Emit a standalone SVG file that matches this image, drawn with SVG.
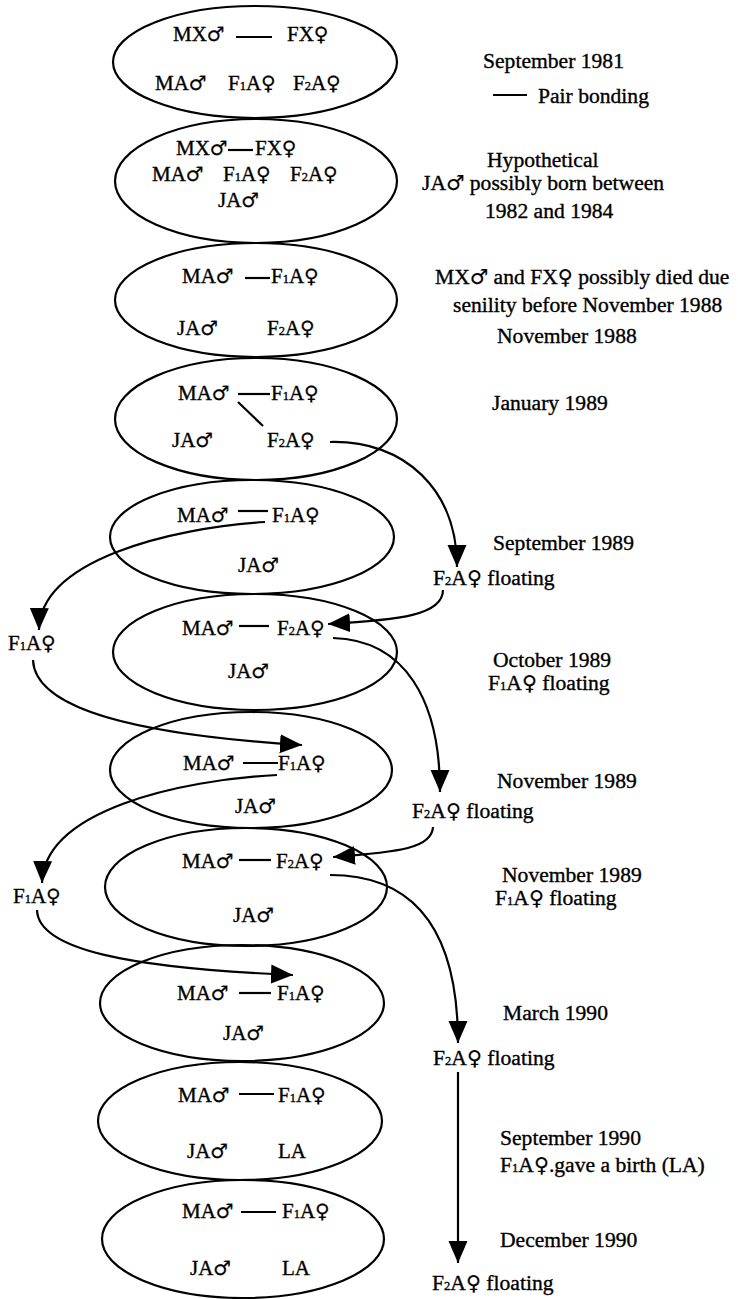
<svg xmlns="http://www.w3.org/2000/svg" width="738" height="1299" viewBox="0 0 738 1299">
<style>
  text { font-family: 'Liberation Serif', 'Times New Roman', 'DejaVu Serif', serif; fill: #000; stroke: #000; stroke-width: 0.35px; }
  .n { font-size: 21px; }
  .a { font-size: 21.6px; }
  .s { font-family: 'DejaVu Sans', sans-serif; font-size: 0.95em; stroke-width: 0.2px; }
  .sub { font-size: 12.5px; }
  .oval { fill: none; stroke: #000; stroke-width: 2.2; }
  .bond { stroke: #000; stroke-width: 2.2; fill: none; }
  .conn { stroke: #000; stroke-width: 2.2; fill: none; marker-end: url(#arr); }
</style>
<defs>
  <marker id="arr" markerUnits="userSpaceOnUse" markerWidth="23" markerHeight="21" refX="22" refY="10.5" orient="auto">
    <path d="M0,1 L22,10.5 L0,20 z" fill="#000"/>
  </marker>
</defs>
<rect width="738" height="1299" fill="#fff"/>

<g id="e1">
  <ellipse class="oval" cx="255" cy="62" rx="142" ry="56"/>
  <text class="n" x="173" y="41">MX<tspan class="s">♂</tspan></text>
  <line class="bond" x1="236" y1="37" x2="272" y2="37"/>
  <text class="n" x="287" y="41">FX<tspan class="s">♀</tspan></text>
  <text class="n" x="155" y="90">MA<tspan class="s">♂</tspan></text>
  <text class="n" x="228" y="90">F<tspan class="sub">1</tspan>A<tspan class="s">♀</tspan></text>
  <text class="n" x="293" y="90">F<tspan class="sub">2</tspan>A<tspan class="s">♀</tspan></text>
</g>

<g id="e2">
  <ellipse class="oval" cx="256" cy="181" rx="141" ry="62"/>
  <text class="n" x="176" y="155">MX<tspan class="s">♂</tspan></text>
  <line class="bond" x1="228" y1="150" x2="253" y2="150"/>
  <text class="n" x="255" y="155">FX<tspan class="s">♀</tspan></text>
  <text class="n" x="152" y="181">MA<tspan class="s">♂</tspan></text>
  <text class="n" x="223" y="181">F<tspan class="sub">1</tspan>A<tspan class="s">♀</tspan></text>
  <text class="n" x="290" y="181">F<tspan class="sub">2</tspan>A<tspan class="s">♀</tspan></text>
  <text class="n" x="218" y="207">JA<tspan class="s">♂</tspan></text>
</g>

<g id="e3">
  <ellipse class="oval" cx="256" cy="300" rx="141" ry="57"/>
  <text class="n" x="182" y="283">MA<tspan class="s">♂</tspan></text>
  <line class="bond" x1="245" y1="278" x2="270" y2="278"/>
  <text class="n" x="271" y="283">F<tspan class="sub">1</tspan>A<tspan class="s">♀</tspan></text>
  <text class="n" x="177" y="335">JA<tspan class="s">♂</tspan></text>
  <text class="n" x="267" y="335">F<tspan class="sub">2</tspan>A<tspan class="s">♀</tspan></text>
</g>

<g id="e4">
  <ellipse class="oval" cx="256" cy="419" rx="141" ry="61"/>
  <text class="n" x="178" y="400">MA<tspan class="s">♂</tspan></text>
  <line class="bond" x1="238" y1="394" x2="270" y2="394"/>
  <line class="bond" x1="238" y1="402" x2="263" y2="426"/>
  <text class="n" x="271" y="400">F<tspan class="sub">1</tspan>A<tspan class="s">♀</tspan></text>
  <text class="n" x="172" y="447">JA<tspan class="s">♂</tspan></text>
  <text class="n" x="267" y="447">F<tspan class="sub">2</tspan>A<tspan class="s">♀</tspan></text>
</g>

<g id="e5">
  <ellipse class="oval" cx="252" cy="537" rx="142" ry="57"/>
  <text class="n" x="177" y="522">MA<tspan class="s">♂</tspan></text>
  <line class="bond" x1="238" y1="511" x2="268" y2="511"/>
  <text class="n" x="272" y="522">F<tspan class="sub">1</tspan>A<tspan class="s">♀</tspan></text>
  <text class="n" x="238" y="572">JA<tspan class="s">♂</tspan></text>
</g>

<g id="e6">
  <ellipse class="oval" cx="255" cy="652" rx="142" ry="58"/>
  <text class="n" x="182" y="635">MA<tspan class="s">♂</tspan></text>
  <line class="bond" x1="239" y1="626" x2="269" y2="626"/>
  <text class="n" x="277" y="635">F<tspan class="sub">2</tspan>A<tspan class="s">♀</tspan></text>
  <text class="n" x="228" y="678">JA<tspan class="s">♂</tspan></text>
</g>

<g id="e7">
  <ellipse class="oval" cx="251" cy="770" rx="141" ry="58"/>
  <text class="n" x="183" y="770">MA<tspan class="s">♂</tspan></text>
  <line class="bond" x1="243" y1="763" x2="278" y2="763"/>
  <text class="n" x="278" y="770">F<tspan class="sub">1</tspan>A<tspan class="s">♀</tspan></text>
  <text class="n" x="235" y="813">JA<tspan class="s">♂</tspan></text>
</g>

<g id="e8">
  <ellipse class="oval" cx="246" cy="887" rx="141" ry="59"/>
  <text class="n" x="182" y="868">MA<tspan class="s">♂</tspan></text>
  <line class="bond" x1="239" y1="860" x2="271" y2="860"/>
  <text class="n" x="276" y="868">F<tspan class="sub">2</tspan>A<tspan class="s">♀</tspan></text>
  <text class="n" x="233" y="922">JA<tspan class="s">♂</tspan></text>
</g>

<g id="e9">
  <ellipse class="oval" cx="242" cy="1003" rx="142" ry="58"/>
  <text class="n" x="177" y="1000">MA<tspan class="s">♂</tspan></text>
  <line class="bond" x1="239" y1="993" x2="271" y2="993"/>
  <text class="n" x="277" y="1000">F<tspan class="sub">1</tspan>A<tspan class="s">♀</tspan></text>
  <text class="n" x="223" y="1040">JA<tspan class="s">♂</tspan></text>
</g>

<g id="e10">
  <ellipse class="oval" cx="240" cy="1121" rx="142" ry="59"/>
  <text class="n" x="178" y="1102">MA<tspan class="s">♂</tspan></text>
  <line class="bond" x1="239" y1="1094" x2="274" y2="1094"/>
  <text class="n" x="278" y="1102">F<tspan class="sub">1</tspan>A<tspan class="s">♀</tspan></text>
  <text class="n" x="187" y="1158">JA<tspan class="s">♂</tspan></text>
  <text class="n" x="278" y="1158">LA</text>
</g>

<g id="e11">
  <ellipse class="oval" cx="243" cy="1239" rx="141" ry="59"/>
  <text class="n" x="182" y="1218">MA<tspan class="s">♂</tspan></text>
  <line class="bond" x1="241" y1="1212" x2="276" y2="1212"/>
  <text class="n" x="282" y="1218">F<tspan class="sub">1</tspan>A<tspan class="s">♀</tspan></text>
  <text class="n" x="190" y="1275">JA<tspan class="s">♂</tspan></text>
  <text class="n" x="282" y="1275">LA</text>
</g>

<g id="float-f1a-1">
  <text class="n" x="8" y="650">F<tspan class="sub">1</tspan>A<tspan class="s">♀</tspan></text>
</g>
<g id="float-f1a-2">
  <text class="n" x="13" y="903">F<tspan class="sub">1</tspan>A<tspan class="s">♀</tspan></text>
</g>
<g id="float-f2a-1">
  <text class="a" x="433" y="585">F<tspan class="sub">2</tspan>A<tspan class="s">♀</tspan> floating</text>
</g>
<g id="float-f2a-2">
  <text class="a" x="412" y="818">F<tspan class="sub">2</tspan>A<tspan class="s">♀</tspan> floating</text>
</g>
<g id="float-f2a-3">
  <text class="a" x="433" y="1065">F<tspan class="sub">2</tspan>A<tspan class="s">♀</tspan> floating</text>
</g>
<g id="float-f2a-4">
  <text class="a" x="432" y="1290">F<tspan class="sub">2</tspan>A<tspan class="s">♀</tspan> floating</text>
</g>

<g id="connectors">
  <path class="conn" d="M330,442 C405,440 457,490 457,567"/>
  <path class="conn" d="M265,522 C170,528 40,560 39,630"/>
  <path class="conn" d="M443,590 C443,615 400,620 328,624"/>
  <path class="conn" d="M33,660 C35,710 140,735 302,745"/>
  <path class="conn" d="M333,638 C405,640 440,700 440,792"/>
  <path class="conn" d="M277,775 C180,780 44,810 42,883"/>
  <path class="conn" d="M433,827 C432,848 400,852 333,857"/>
  <path class="conn" d="M37,910 C38,950 130,968 293,975"/>
  <path class="conn" d="M330,875 C415,875 458,930 458,1043"/>
  <path class="conn" d="M458,1072 L458,1263"/>
</g>

<g id="legend">
  <text class="a" x="483" y="68">September 1981</text>
  <line class="bond" x1="493" y1="95" x2="527" y2="95"/>
  <text class="a" x="538" y="103">Pair bonding</text>
</g>

<g id="annotations">
  <text class="a" x="487" y="167">Hypothetical</text>
  <text class="a" x="422" y="190">JA<tspan class="s">♂</tspan> possibly born between</text>
  <text class="a" x="485" y="218">1982 and 1984</text>
  <text class="a" x="435" y="284">MX<tspan class="s">♂</tspan> and FX<tspan class="s">♀</tspan> possibly died due</text>
  <text class="a" x="453" y="312">senility before November 1988</text>
  <text class="a" x="497" y="343">November 1988</text>
  <text class="a" x="492" y="410">January 1989</text>
  <text class="a" x="493" y="550">September 1989</text>
  <text class="a" x="493" y="667">October 1989</text>
  <text class="a" x="488" y="690">F<tspan class="sub">1</tspan>A<tspan class="s">♀</tspan> floating</text>
  <text class="a" x="497" y="788">November 1989</text>
  <text class="a" x="502" y="882">November 1989</text>
  <text class="a" x="495" y="905">F<tspan class="sub">1</tspan>A<tspan class="s">♀</tspan> floating</text>
  <text class="a" x="503" y="1020">March 1990</text>
  <text class="a" x="500" y="1145">September 1990</text>
  <text class="a" x="500" y="1172">F<tspan class="sub">1</tspan>A<tspan class="s">♀</tspan>.gave a birth (LA)</text>
  <text class="a" x="500" y="1247">December 1990</text>
</g>
</svg>
